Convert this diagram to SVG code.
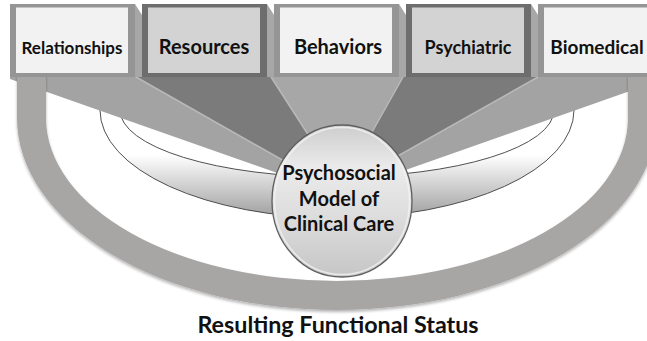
<svg xmlns="http://www.w3.org/2000/svg" width="647" height="341" viewBox="0 0 647 341">
  <defs>
    <style>
      .lbl { font-family: Lato, "Open Sans", "Liberation Sans", sans-serif; font-weight: 700; fill: #111; text-anchor: middle; }
      .frameL { fill: #959595; }
      .frameD { fill: #6d6d6d; }
      .innerL { fill: #f2f2f2; }
      .innerD { fill: #d3d3d3; }
      .side { fill: #a7a7a7; }
      .wL { fill: #a3a3a3; }
      .wM { fill: #a7a7a7; }
      .wD { fill: #7b7b7b; }
      .hl { stroke: #b9b9b9; stroke-width: 1.5; fill: none; }
      .ringline { stroke: #3c3c3c; stroke-width: 0.9; }
    </style>
    <linearGradient id="ringGrad" gradientUnits="userSpaceOnUse" x1="0" y1="155" x2="0" y2="218">
      <stop offset="0" stop-color="#ffffff"/>
      <stop offset="1" stop-color="#9e9e9e"/>
    </linearGradient>
    <linearGradient id="circGrad" x1="0" y1="0" x2="0" y2="1">
      <stop offset="0" stop-color="#cdcdcd"/>
      <stop offset="0.28" stop-color="#ebebeb"/>
      <stop offset="0.6" stop-color="#dddddd"/>
      <stop offset="1" stop-color="#c6c6c6"/>
    </linearGradient>
    <clipPath id="ringClip">
      <rect x="0" y="86" width="647" height="255"/>
    </clipPath>
    <filter id="soft" x="-5%" y="-5%" width="110%" height="115%">
      <feGaussianBlur in="SourceAlpha" stdDeviation="1.6"/>
      <feOffset dx="0" dy="2" result="b"/>
      <feComponentTransfer><feFuncA type="linear" slope="0.3"/></feComponentTransfer>
      <feMerge><feMergeNode/><feMergeNode in="SourceGraphic"/></feMerge>
    </filter>
  </defs>

  <rect width="647" height="341" fill="#ffffff"/>

  <!-- elliptical ring behind the centre -->
  <g id="ring" clip-path="url(#ringClip)">
    <ellipse cx="337" cy="110" rx="237" ry="108" fill="url(#ringGrad)" class="ringline"/>
    <ellipse cx="337" cy="110" rx="217" ry="67" fill="#ffffff" class="ringline"/>
  </g>

  <!-- connectors: wedges from each box to the centre -->
  <g id="connectors">
    <polygon class="wL" points="10,77 136,77 300,170 300,181 10,79"/>
    <polygon class="wD" points="136,77 271,77 318,150 300,170"/>
    <polygon class="wM" points="271,77 403,77 362,150 318,150"/>
    <polygon class="wD" points="403,77 538,77 380,166 362,150"/>
    <polygon class="wL" points="538,77 664,77 664,79 380,179 380,166"/>
    <line class="hl" x1="136" y1="77" x2="300" y2="170"/>
    <line class="hl" x1="271" y1="77" x2="318" y2="150"/>
    <line class="hl" x1="403" y1="77" x2="362" y2="150"/>
    <line class="hl" x1="538" y1="77" x2="380" y2="166"/>
  </g>

  <!-- outer arc: Resulting Functional Status -->
  <g id="outcome-arc" filter="url(#soft)">
    <path d="M17,70 L17,118 A320,192 0 0 0 657,118 L657,70 L628,70 L628,118 A291,163 0 0 1 46,118 L46,70 Z" fill="#a8a5a5"/>
  </g>

  <g id="relationships">
    <polygon class="side" points="135,4 142,15 142,77 135,77"/>
    <rect class="frameL" x="10" y="4" width="125" height="73"/>
    <rect class="innerL" x="16" y="7.5" width="112" height="65.5"/>
    <text class="lbl" x="72" y="54" font-size="17">Relationships</text>
  </g>
  <g id="resources">
    <polygon class="side" points="267,4 274,15 274,77 267,77"/>
    <rect class="frameD" x="142" y="4" width="125" height="73"/>
    <rect class="innerD" x="148" y="7.5" width="112" height="65.5"/>
    <text class="lbl" x="204" y="54" font-size="20">Resources</text>
  </g>
  <g id="behaviors">
    <polygon class="side" points="399,4 406,15 406,77 399,77"/>
    <rect class="frameL" x="274" y="4" width="125" height="73"/>
    <rect class="innerL" x="280" y="7.5" width="112" height="65.5"/>
    <text class="lbl" x="338" y="54" font-size="20">Behaviors</text>
  </g>
  <g id="psychiatric">
    <polygon class="side" points="531,4 538,15 538,77 531,77"/>
    <rect class="frameD" x="406" y="4" width="125" height="73"/>
    <rect class="innerD" x="412" y="7.5" width="112" height="65.5"/>
    <text class="lbl" x="468" y="54" font-size="18">Psychiatric</text>
  </g>
  <g id="biomedical">
    <rect class="frameL" x="538" y="4" width="125" height="73"/>
    <rect class="innerL" x="544" y="7.5" width="112" height="65.5"/>
    <text class="lbl" x="597" y="54" font-size="19">Biomedical</text>
  </g>

  <g id="centre">
    <ellipse cx="342" cy="201" rx="70" ry="76" fill="url(#circGrad)" stroke="#5f5f5f" stroke-width="1.3"/>
    <ellipse cx="342" cy="201" rx="67.5" ry="73.5" fill="none" stroke="#f2f2f2" stroke-width="1.5" opacity="0.8"/>
    <text class="lbl" x="339" y="180" font-size="20">Psychosocial</text>
    <text class="lbl" x="339" y="205.5" font-size="20">Model of</text>
    <text class="lbl" x="339" y="231" font-size="20">Clinical Care</text>
  </g>

  <g id="title">
    <text class="lbl" x="338" y="333" font-size="23.3">Resulting Functional Status</text>
  </g>
</svg>
